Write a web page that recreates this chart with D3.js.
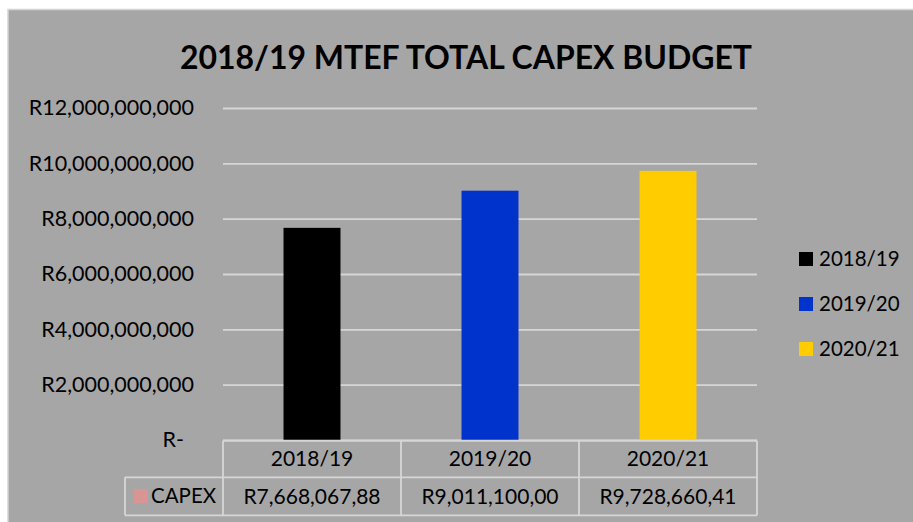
<!DOCTYPE html>
<html>
<head>
<meta charset="utf-8">
<script src="https://cdn.jsdelivr.net/npm/d3@7"></script>
<style>
  html, body { margin: 0; padding: 0; background: #fff; }
  svg { display: block; font-family: Lato, "Open Sans", sans-serif; }
</style>
</head>
<body>
<svg id="chart" width="913" height="522"></svg>
<script>
// Capital expenditure budget over the MTEF period
const years = ["2018/19", "2019/20", "2020/21"];
const capex = [7668067880, 9011100000, 9728660410];
const barColors = ["#000000", "#0033cc", "#ffcc00"];
const yTicks = [0, 2e9, 4e9, 6e9, 8e9, 10e9, 12e9];
const seriesName = "CAPEX";
const seriesSwatch = "#d99594";
const title = "2018/19 MTEF TOTAL CAPEX BUDGET";

const svg = d3.select("#chart");
const W = 913, H = 522;
const plot = { left: 223, right: 757, top: 108, bottom: 440 };
const gridColor = "#d6d6d6";

// chart area
svg.append("rect")
  .attr("x", 8).attr("y", 9.5)
  .attr("width", W).attr("height", H)
  .attr("fill", "#a6a6a6")
  .attr("stroke", "#d4d4d4").attr("stroke-width", 1.5);

// title
svg.append("text")
  .attr("x", 466).attr("y", 69)
  .attr("text-anchor", "middle")
  .attr("font-weight", 700)
  .attr("font-size", 33)
  .attr("textLength", 572)
  .attr("lengthAdjust", "spacingAndGlyphs")
  .attr("fill", "#000")
  .text(title);

const x = d3.scaleBand().domain(years).range([plot.left, plot.right]).padding(0);
const y = d3.scaleLinear().domain([0, 12e9]).range([plot.bottom, plot.top]);
const barFrac = 0.32;

// value axis with gridlines
const fmt = v => v === 0 ? "R-" : "R" + d3.format(",")(v);
const yAxis = svg.append("g")
  .attr("transform", `translate(${plot.left},0)`)
  .call(d3.axisLeft(y).tickValues(yTicks).tickFormat(fmt)
    .tickSizeInner(-(plot.right - plot.left)).tickSizeOuter(0).tickPadding(29));
yAxis.select(".domain").remove();
yAxis.selectAll(".tick line").attr("stroke", gridColor).attr("stroke-width", 1.8);
yAxis.selectAll(".tick text")
  .attr("font-size", 21.5)
  .attr("fill", "#000")
  .attr("font-family", "Lato, sans-serif");
// the zero label sits a little further in, as the accounting format pads it
yAxis.selectAll(".tick").filter(d => d === 0).select("text").attr("dx", -10);

// bars
svg.append("g").selectAll("rect")
  .data(years.map((yr, i) => ({ yr, v: capex[i], c: barColors[i] })))
  .join("rect")
  .attr("x", d => x(d.yr) + x.bandwidth() * (1 - barFrac) / 2)
  .attr("width", x.bandwidth() * barFrac)
  .attr("y", d => y(d.v))
  .attr("height", d => y(0) - y(d.v))
  .attr("fill", d => d.c);

// data table under the axis
const rowTop = plot.bottom + 0.7, rowMid = 477.3, rowBot = 515.3, tableLeft = 125;
const tbl = svg.append("g").attr("stroke", gridColor).attr("stroke-width", 1.8).attr("fill", "none");
tbl.append("line").attr("x1", plot.left).attr("x2", plot.right).attr("y1", rowTop).attr("y2", rowTop);
tbl.append("line").attr("x1", tableLeft).attr("x2", plot.right).attr("y1", rowMid).attr("y2", rowMid);
tbl.append("line").attr("x1", tableLeft).attr("x2", plot.right).attr("y1", rowBot).attr("y2", rowBot);
tbl.append("line").attr("x1", tableLeft).attr("x2", tableLeft).attr("y1", rowMid).attr("y2", rowBot);
tbl.selectAll("line.col")
  .data([...years.map(d => x(d)), plot.right])
  .join("line").attr("class", "col")
  .attr("x1", d => d).attr("x2", d => d).attr("y1", rowTop).attr("y2", rowBot);

const txt = svg.append("g").attr("font-size", 21).attr("fill", "#000").attr("text-anchor", "middle");
txt.selectAll("text.hdr").data(years).join("text").attr("class", "hdr")
  .attr("x", d => x(d) + x.bandwidth() / 2)
  .attr("y", (rowTop + rowMid) / 2).attr("dy", "0.35em")
  .text(d => d);
// the value cells are narrow, so each figure is cut after its first 13 characters
txt.selectAll("text.val").data(capex).join("text").attr("class", "val")
  .attr("x", (d, i) => x(years[i]) + x.bandwidth() / 2)
  .attr("y", (rowMid + rowBot) / 2).attr("dy", "0.35em")
  .text(d => ("R" + d3.format(",")(d)).slice(0, 13));

svg.append("rect").attr("x", 134).attr("y", 489).attr("width", 14).attr("height", 14).attr("fill", seriesSwatch);
svg.append("text").attr("x", 151).attr("y", (rowMid + rowBot) / 2).attr("dy", "0.35em")
  .attr("font-size", 20.5).attr("fill", "#000").text(seriesName);

// legend
const leg = svg.append("g").selectAll("g").data(years).join("g")
  .attr("transform", (d, i) => `translate(799,${259 + i * 45})`);
leg.append("rect").attr("x", 0).attr("y", -7).attr("width", 14).attr("height", 14)
  .attr("fill", (d, i) => barColors[i]);
leg.append("text").attr("x", 20).attr("y", 0).attr("dy", "0.35em")
  .attr("font-size", 20.5).attr("fill", "#000").text(d => d);
</script>
</body>
</html>
